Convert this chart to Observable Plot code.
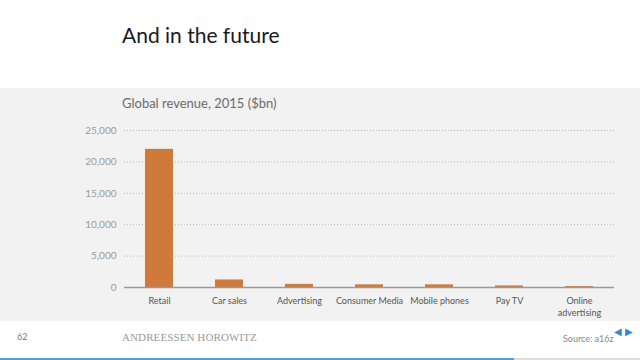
<!DOCTYPE html>
<html>
<head>
<meta charset="utf-8">
<script src="https://cdn.jsdelivr.net/npm/d3@7"></script>
<script src="https://cdn.jsdelivr.net/npm/@observablehq/plot@0.6"></script>
<style>
  html, body { margin: 0; padding: 0; background: #fff; }
  #page { position: relative; width: 640px; height: 360px; overflow: hidden; font-family: Lato, "Open Sans", sans-serif; }
  #title { position: absolute; left: 122px; top: 22px; font-size: 21px; color: #1a1a1a; }
  #panel { position: absolute; left: 0; top: 88px; width: 640px; height: 233px; background: #f2f2f2; }
  #subtitle { position: absolute; left: 122px; top: 95px; font-size: 13px; color: #6b6b6b; }
  #chart { position: absolute; left: 0; top: 115px; }
  #pagenum { position: absolute; left: 17px; top: 331px; font-size: 9px; color: #777; }
  #brand { position: absolute; left: 122px; top: 331px; font-family: "Liberation Serif", "DejaVu Serif", serif; font-size: 11px; letter-spacing: 0.1px; color: #999; }
  #source { position: absolute; left: 563px; top: 333px; font-size: 9px; color: #888; }
  #nav { position: absolute; left: 614px; top: 325px; font-size: 10px; color: #3a86d0; }
  #bar { position: absolute; left: 0; top: 358px; width: 514px; height: 2px; background: #4aa3df; }
  #bar2 { position: absolute; left: 514px; top: 358px; width: 126px; height: 2px; background: #ddd; }
</style>
</head>
<body>
<div id="page">
  <div id="title">And in the future</div>
  <div id="panel"></div>
  <div id="subtitle">Global revenue, 2015 ($bn)</div>
  <div id="chart"></div>
  <div id="pagenum">62</div>
  <div id="brand">ANDREESSEN HOROWITZ</div>
  <div id="source">Source: a16z</div>
  <div id="nav">◀&nbsp;▶</div>
  <div id="bar"></div><div id="bar2"></div>
</div>
<script>
const categories = ["Retail", "Car sales", "Advertising", "Consumer Media", "Mobile phones", "Pay TV", "Online advertising"];
const categoryLabels = ["Retail", "Car sales", "Advertising", "Consumer Media", "Mobile phones", "Pay TV", "Online\nadvertising"];
const revenue = [22000, 1200, 500, 420, 420, 250, 150];
const yTicks = [0, 5000, 10000, 15000, 20000, 25000];

const data = categories.map((c, i) => ({category: c, value: revenue[i]}));
const labelOf = new Map(categories.map((c, i) => [c, categoryLabels[i]]));

const chart = Plot.plot({
  width: 640,
  height: 204,
  marginTop: 15,
  marginBottom: 32,
  marginLeft: 124,
  marginRight: 26,
  style: {background: "transparent", fontFamily: "Lato, 'Open Sans', sans-serif"},
  x: {domain: categories, paddingInner: 0.6, paddingOuter: 0.3, label: null},
  y: {domain: [0, 25000], label: null},
  marks: [
    Plot.gridY(yTicks.filter(d => d > 0), {stroke: "#b5b5b5", strokeOpacity: 1, strokeDasharray: "1,2"}),
    Plot.barY(data, {x: "category", y: "value", fill: "#cf7a3b"}),
    Plot.ruleY([0], {stroke: "#9a9a9a", strokeWidth: 1.5}),
    Plot.axisY({ticks: yTicks, tickSize: 0, tickPadding: 8, tickFormat: d => d3.format(",")(d), fill: "#9a9a9a", fontSize: 10}),
    Plot.axisX({tickSize: 0, tickPadding: 8, tickFormat: d => labelOf.get(d), fill: "#555", fontSize: 9, lineHeight: 1.3})
  ]
});
document.getElementById("chart").appendChild(chart);
</script>
</body>
</html>
